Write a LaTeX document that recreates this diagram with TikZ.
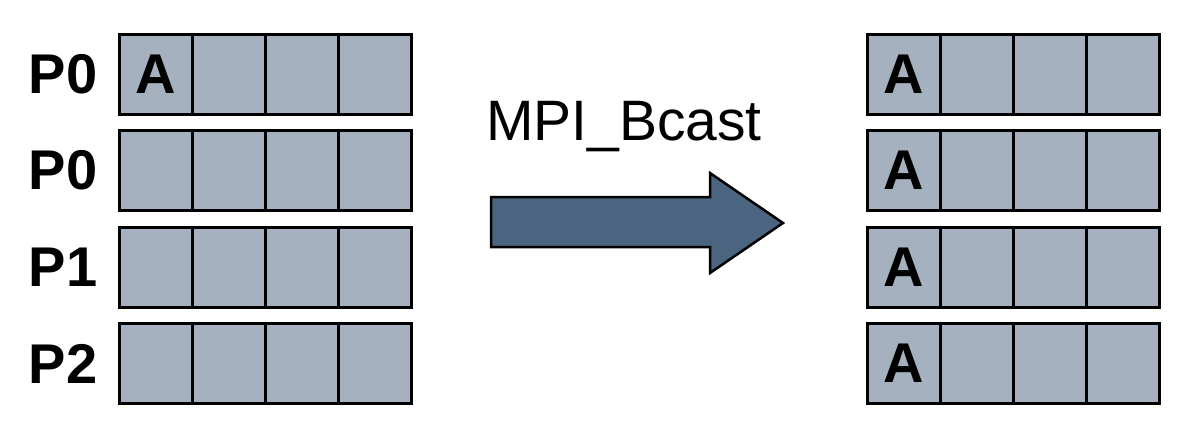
\documentclass[tikz,border=0pt]{standalone}
\usepackage{fontspec}
\setmainfont{Liberation Sans}
\usetikzlibrary{positioning}
\definecolor{cellgray}{HTML}{A5B1BF}
\definecolor{arrowblue}{HTML}{4B6580}

\begin{document}
\begin{tikzpicture}[x=1pt, y=-1pt,
    cell/.style={draw, line width=3pt, fill=cellgray, minimum width=73pt, minimum height=80pt,
                 inner sep=0pt, outer sep=0pt, font=\fontsize{56}{60}\selectfont\bfseries},
    proc/.style={font=\fontsize{56}{60}\selectfont\bfseries, inner sep=0pt}]

    \useasboundingbox (0,0) rectangle (1189,440);

    % Left buffers: before the broadcast
    \foreach \r/\p in {0/P0, 1/P0, 2/P1, 3/P2} {
      \node[proc] (lab\r) at (63, 74+96.5*\r) {\p};
      \foreach \c in {0,1,2,3} {
        \node[cell] (L\r\c) at (155.5+73*\c, 74+96.5*\r) {};
      }
    }
    \node[proc] (dataA) at (L00) {A};

    % Right buffers: after the broadcast
    \foreach \r in {0,1,2,3} {
      \foreach \c in {0,1,2,3} {
        \node[cell] (R\r\c) at (903.5+73*\c, 74+96.5*\r) {};
      }
      \node[proc] (copyA\r) at (R\r0) {A};
    }

    % Operation name
    \node[font=\fontsize{57}{60}\selectfont, anchor=base, inner sep=0pt] (bcast) at (624,140) {MPI\_Bcast};

    % Big arrow
    \draw[line width=2.5pt, fill=arrowblue, line join=miter]
      (491,197) -- (710,197) -- (710,173) -- (783,223) -- (710,273) -- (710,247) -- (491,247) -- cycle;

\end{tikzpicture}
\end{document}
